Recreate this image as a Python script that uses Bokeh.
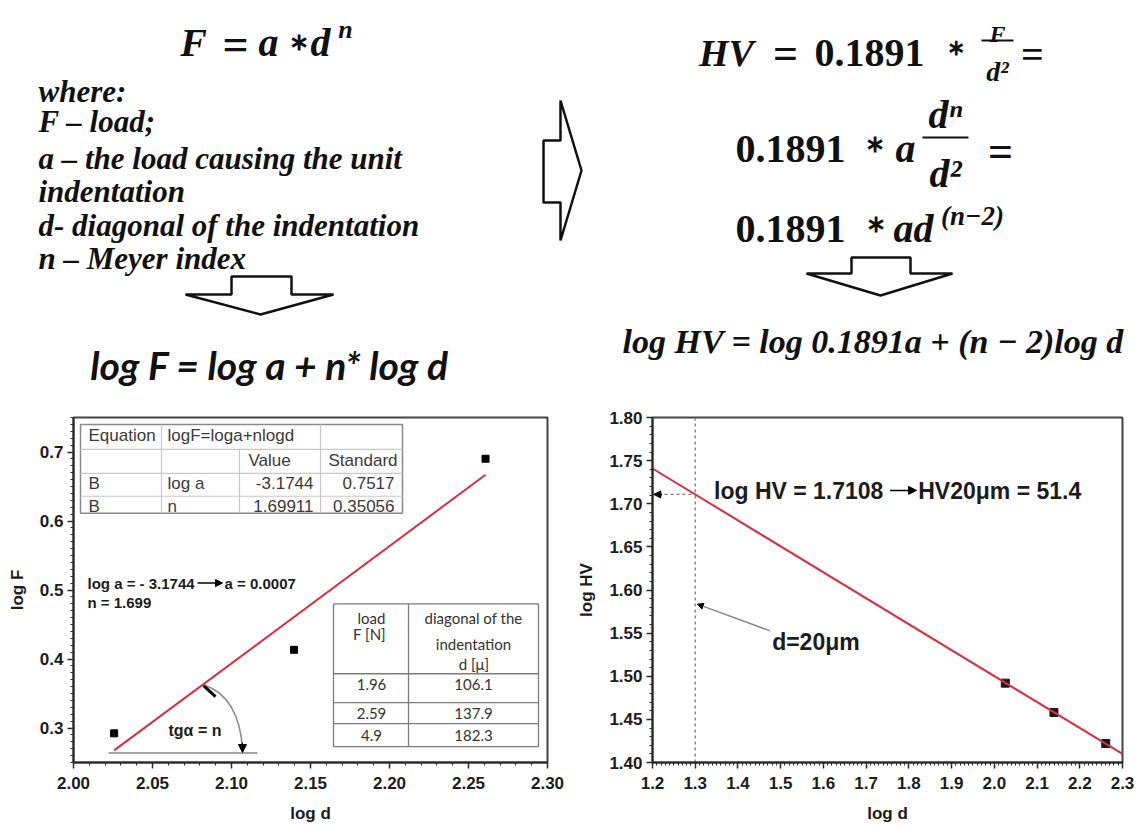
import numpy as np
from bokeh.plotting import figure
from bokeh.layouts import column, row
from bokeh.models import Range1d, FixedTicker, Arrow, NormalHead, PrintfTickFormatter
from bokeh.core.properties import value
from bokeh.embed import file_html
from bokeh.resources import INLINE

# ---------------- data ----------------
load_N = [1.96, 2.59, 4.9]            # load F [N]
diag_um = [106.1, 137.9, 182.3]       # indentation diagonal d [um]
log_hv_pts = [1.492, 1.458, 1.422]    # log HV for the three loads

# Meyer fit  logF = loga + n*logd
fit_header = ["Equation", "logF=loga+nlogd"]
fit_cols = ["Value", "Standard"]
fit_rows = [["B", "log a", "-3.1744", "0.7517"],
            ["B", "n", "1.69911", "0.35056"]]
log_a = -3.1744
n_meyer = 1.69911

# extrapolation to d = 20 um
log_d_20 = 1.3
log_hv_20 = 1.7108
hv_line_x = [1.2, 2.3]

log_d = np.log10(diag_um)
log_F = np.log10(load_N)
fit_x = [log_d[0], log_d[-1]]
fit_y = [log_a + n_meyer * x for x in fit_x]
hv_line_y = [log_hv_20 + (n_meyer - 2) * (x - log_d_20) for x in hv_line_x]

RED = "#d8303f"
AX = "#2a2a2a"
SANS = "Liberation Sans"
SERIF = "Liberation Serif"
INK = "#111111"


def txt(p, x, y, s, size, font=SANS, style="normal", align="left",
        baseline="middle", color=INK):
    p.text(x=[x], y=[y], text=[s], text_font=value(font),
           text_font_size=f"{size}px", text_font_style=style,
           text_align=align, text_baseline=baseline, text_color=color)


# ---------------- formulas ----------------
top = figure(width=1137, height=390, x_range=Range1d(0, 1137),
             y_range=Range1d(390, 0), toolbar_location=None,
             output_backend="svg", x_axis_location=None,
             y_axis_location=None, min_border=0)
top.grid.grid_line_color = None
top.outline_line_color = None


def eq(x, y, s, size, style="bold italic", align="center", font=SERIF):
    txt(top, x, y, s, size, font=font, style=style, align=align,
        baseline="alphabetic")


# F = a * d^n
eq(193, 42, "F", 40)
eq(235, 44, "=", 46, style="bold")
eq(268, 42, "a", 40)
eq(298, 41, "∗", 24, style="bold")
eq(320, 42, "d", 40)
eq(345, 29, "n", 26)

legend_lines = ["where:", "F – load;", "a – the load causing the unit",
                "indentation", "d- diagonal of the indentation",
                "n – Meyer index"]
legend_base = [91, 121, 158, 191, 225, 258]
for s, yb in zip(legend_lines, legend_base):
    eq(38, yb, s, 31, align="left")

eq(269, 364, "log F = log a + n* log d", 39, font="Lato")

# HV = 0.1891 * F / d^2 =
eq(726, 52, "HV", 38)
eq(785, 53, "=", 44, style="bold")
eq(869, 52, "0.1891", 40, style="bold")
eq(955, 47, "∗", 22, style="bold")
eq(997, 33, "F", 24)
top.segment(x0=[981], y0=[40], x1=[1013], y1=[40], line_color=INK, line_width=2)
eq(997, 71, "d²", 28)
eq(1032, 54, "=", 40, style="bold")

# 0.1891 * a d^n / d^2 =
eq(790, 148, "0.1891", 40, style="bold")
eq(874, 143, "∗", 24, style="bold")
eq(905, 148, "a", 40)
eq(945, 114, "dⁿ", 40)
top.segment(x0=[922], y0=[137], x1=[968], y1=[137], line_color=INK, line_width=2)
eq(945, 173, "d²", 40)
eq(1000, 151, "=", 44, style="bold")

# 0.1891 * a d^(n-2)
eq(790, 228, "0.1891", 40, style="bold")
eq(875, 223, "∗", 24, style="bold")
eq(913, 228, "ad", 40)
eq(972, 215, "(n−2)", 27)

eq(622, 341, "log HV = log 0.1891a + (n − 2)log d", 34, align="left")

# block arrows
arrow_style = dict(fill_color="white", line_color=INK, line_width=2.5)
top.patch([231, 291, 291, 333, 260, 185, 231, 231],
          [276, 276, 294, 294, 314, 294, 294, 276], **arrow_style)
top.patch([851, 910, 910, 952, 880, 806, 851, 851],
          [257, 257, 273, 273, 295, 273, 273, 257], **arrow_style)
top.patch([543, 560, 560, 581, 560, 560, 543, 543],
          [140, 140, 100, 170, 240, 202, 202, 140], **arrow_style)


# ---------------- axes styling ----------------
def style(p, xlabel, ylabel, xticks, xminor, yticks, yminor, xfmt, yfmt):
    p.grid.grid_line_color = None
    p.outline_line_color = "#444444"
    p.outline_line_width = 2
    p.xaxis.axis_label = xlabel
    p.yaxis.axis_label = ylabel
    p.xaxis.ticker = FixedTicker(ticks=xticks, minor_ticks=xminor)
    p.yaxis.ticker = FixedTicker(ticks=yticks, minor_ticks=yminor)
    p.xaxis.formatter = PrintfTickFormatter(format=xfmt)
    p.yaxis.formatter = PrintfTickFormatter(format=yfmt)
    for ax in (p.xaxis[0], p.yaxis[0]):
        ax.axis_line_color = AX
        ax.axis_line_width = 2
        ax.major_tick_line_color = AX
        ax.major_tick_line_width = 1.5
        ax.major_tick_in = 0
        ax.major_tick_out = 6
        ax.minor_tick_line_color = AX
        ax.minor_tick_line_width = 1
        ax.minor_tick_in = 0
        ax.minor_tick_out = 3
        ax.major_label_text_font = SANS
        ax.major_label_text_font_style = "bold"
        ax.major_label_text_font_size = "17px"
        ax.major_label_text_color = "#1c1c1c"
        ax.axis_label_text_font = SANS
        ax.axis_label_text_font_style = "bold"
        ax.axis_label_text_font_size = "17px"
        ax.axis_label_text_color = "#1c1c1c"
    p.xaxis.major_label_standoff = 8
    p.xaxis.axis_label_standoff = 12
    p.yaxis.major_label_standoff = 4
    p.yaxis.axis_label_standoff = 10


def seq(a, b, step):
    return [round(v, 4) for v in np.arange(a, b + step / 2, step)]


# ---------------- log F vs log d ----------------
LX0, LX1, LY0, LY1 = 2.0, 2.3, 0.25, 0.75
LFW, LFH = 474, 346
left = figure(width=570, height=437, x_range=Range1d(LX0, LX1),
              y_range=Range1d(LY0, LY1), toolbar_location=None,
              output_backend="svg", min_border_left=73, min_border_right=23,
              min_border_top=26, min_border_bottom=65)
style(left, "log d", "log F", seq(2.0, 2.3, 0.05), seq(2.0, 2.3, 0.01),
      seq(0.3, 0.7, 0.1), seq(0.25, 0.75, 0.01), "%.2f", "%.1f")


def lx(px):
    return LX0 + px * (LX1 - LX0) / LFW


def ly(py):
    return LY1 - py * (LY1 - LY0) / LFH


# fit parameter table
tx = [7, 88, 166, 247, 329]
ty = [7, 32, 56, 79, 96]
grid_c = "#c8c8c8"
left.quad(left=lx(tx[0]), right=lx(tx[-1]), top=ly(ty[0]), bottom=ly(ty[-1]),
          fill_color="white", line_color="#8a8a8a", line_width=1.5)
left.segment(x0=[lx(tx[0])] * 3, y0=[ly(v) for v in ty[1:4]],
             x1=[lx(tx[-1])] * 3, y1=[ly(v) for v in ty[1:4]],
             line_color=grid_c, line_width=1.2)
left.segment(x0=[lx(tx[1]), lx(tx[2]), lx(tx[3])],
             y0=[ly(ty[0]), ly(ty[1]), ly(ty[0])],
             x1=[lx(tx[1]), lx(tx[2]), lx(tx[3])],
             y1=[ly(ty[-1])] * 3, line_color=grid_c, line_width=1.2)
tc = "#3a3a3a"
txt(left, lx(15), ly(18), fit_header[0], 17, color=tc)
txt(left, lx(94), ly(18), fit_header[1], 17, color=tc)
txt(left, lx(196), ly(43), fit_cols[0], 17, align="center", color=tc)
txt(left, lx(324), ly(43), fit_cols[1], 17, align="right", color=tc)
for r, cy in zip(fit_rows, [66, 89]):
    txt(left, lx(15), ly(cy), r[0], 17, color=tc)
    txt(left, lx(94), ly(cy), r[1], 17, color=tc)
    txt(left, lx(240), ly(cy), r[2], 17, align="right", color=tc)
    txt(left, lx(321), ly(cy), r[3], 17, align="right", color=tc)

# load / diagonal table
ux = [260, 335, 465]
uy = [187, 257, 286, 307, 330]
tab_c = "#7c7c7c"
left.quad(left=lx(ux[0]), right=lx(ux[-1]), top=ly(uy[0]), bottom=ly(uy[-1]),
          fill_color="white", line_color=tab_c, line_width=1.3)
left.segment(x0=[lx(ux[0])] * 3, y0=[ly(v) for v in uy[1:4]],
             x1=[lx(ux[-1])] * 3, y1=[ly(v) for v in uy[1:4]],
             line_color=tab_c, line_width=1.3)
left.segment(x0=[lx(ux[1])], y0=[ly(uy[0])], x1=[lx(ux[1])], y1=[ly(uy[-1])],
             line_color=tab_c, line_width=1.3)
c1, c2 = lx(298), lx(400)
for s, cy in [("load", 201), ("F  [N]", 217)]:
    txt(left, c1, ly(cy), s, 15, font="Lato", align="center", color="#333333")
for s, cy in [("diagonal of the", 201), ("indentation", 227), ("d [μ]", 247)]:
    txt(left, c2, ly(cy), s, 15, font="Lato", align="center", color="#333333")
for f, d, cy in zip(load_N, diag_um, [268, 297, 319]):
    txt(left, c1, ly(cy), f"{f}", 15, font="Lato", align="center", color="#333333")
    txt(left, c2, ly(cy), f"{d}", 15, font="Lato", align="center", color="#333333")

# slope construction
left.line([lx(35), lx(184)], [ly(336.5), ly(336.5)], line_color="#8a8a8a",
          line_width=1.5)
left.quadratic(x0=[lx(130)], y0=[ly(268)], x1=[lx(169)], y1=[ly(333)],
               cx=[lx(166)], cy=[ly(280)], line_color="#8a8a8a", line_width=1.5)
left.segment(x0=[lx(130)], y0=[ly(269)], x1=[lx(142)], y1=[ly(280)],
             line_color="black", line_width=3)
left.add_layout(Arrow(end=NormalHead(size=8, fill_color="black", line_color="black"),
                      x_start=lx(169), y_start=ly(326), x_end=lx(169),
                      y_end=ly(336), line_color="black", line_width=1))
txt(left, lx(95), ly(314), "tgα = n", 16, style="bold", color="#1c1c1c")

# fit result
txt(left, lx(14), ly(166), "log a = - 3.1744", 15, style="bold", color="#1c1c1c")
left.add_layout(Arrow(end=NormalHead(size=7, fill_color="black", line_color="black"),
                      x_start=lx(124), y_start=ly(166), x_end=lx(149),
                      y_end=ly(166), line_color="black", line_width=1.5))
txt(left, lx(151), ly(166), "a = 0.0007", 15, style="bold", color="#1c1c1c")
txt(left, lx(14), ly(186), "n = 1.699", 15, style="bold", color="#1c1c1c")

left.scatter(log_d, log_F, marker="square", size=7, color="black")
left.line(fit_x, fit_y, line_color=RED, line_width=2)

# ---------------- log HV vs log d ----------------
right = figure(width=567, height=437, x_range=Range1d(1.2, 2.3),
               y_range=Range1d(1.40, 1.80), toolbar_location=None,
               output_backend="svg", min_border_left=82, min_border_right=15,
               min_border_top=27, min_border_bottom=64)
style(right, "log d", "log HV", seq(1.2, 2.3, 0.1), seq(1.2, 2.3, 0.01),
      seq(1.40, 1.80, 0.05), seq(1.40, 1.80, 0.01), "%.1f", "%.2f")

right.line([log_d_20, log_d_20], [1.40, 1.80], line_color="#7a7a7a",
           line_dash="3 3", line_width=1.3)
right.line([1.2, log_d_20], [log_hv_20, log_hv_20], line_color="#7a7a7a",
           line_dash="3 3", line_width=1.3)
right.add_layout(Arrow(end=NormalHead(size=7, fill_color="black", line_color="black"),
                       x_start=1.222, y_start=log_hv_20, x_end=1.203,
                       y_end=log_hv_20, line_color="black", line_width=2))

right.scatter(log_d, log_hv_pts, marker="square", size=8, color="#1a1a1a")
right.line(hv_line_x, hv_line_y, line_color=RED, line_width=2)

txt(right, 1.344, 1.7145, f"log HV = {log_hv_20}", 23, style="bold", color="#1c1c1c")
right.add_layout(Arrow(end=NormalHead(size=8, fill_color="black", line_color="black"),
                       x_start=1.756, y_start=1.7155, x_end=1.818,
                       y_end=1.7155, line_color="black", line_width=1.5))
txt(right, 1.822, 1.7145, "HV20μm = 51.4", 23, style="bold", color="#1c1c1c")

txt(right, 1.48, 1.540, "d=20μm", 23, style="bold", color="#1c1c1c")
right.add_layout(Arrow(end=NormalHead(size=6, fill_color="black", line_color="black"),
                       x_start=1.4755, y_start=1.5526, x_end=1.305,
                       y_end=1.5836, line_color="#8a8a8a", line_width=1.5))

layout = column(top, row(left, right))
with open("out.html", "w") as fh:
    fh.write(file_html(layout, INLINE, title="Meyer index and Vickers hardness"))
